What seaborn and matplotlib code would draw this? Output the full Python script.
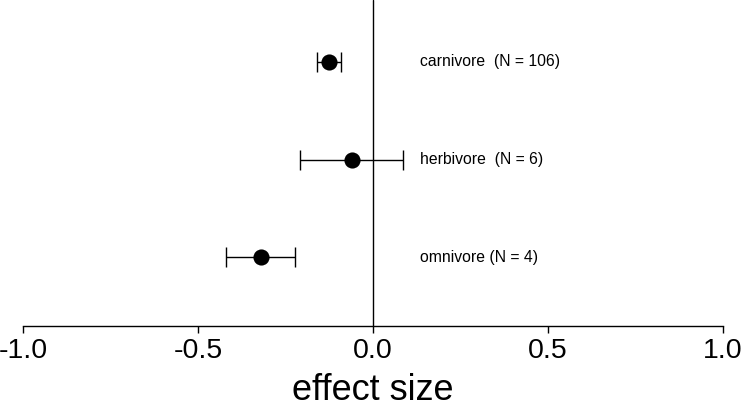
import matplotlib
matplotlib.use("Agg")
import matplotlib.pyplot as plt
import seaborn as sns
import pandas as pd

# values
diets = ["carnivore", "herbivore", "omnivore"]
labels = ["carnivore  (N = 106)", "herbivore  (N = 6)", "omnivore (N = 4)"]
effect = [-0.126, -0.061, -0.321]
ci_low = [-0.160, -0.208, -0.420]
ci_high = [-0.092, 0.086, -0.222]
ypos = [3, 2, 1]

df = pd.DataFrame({"diet": diets, "effect": effect, "lo": ci_low, "hi": ci_high, "y": ypos})

sns.set_style("white")
plt.rcParams["font.family"] = ["Liberation Sans", "DejaVu Sans"]
plt.rcParams["text.color"] = "black"

fig = plt.figure(figsize=(7.42, 4.07), dpi=100)
ax = fig.add_axes([23 / 742, 81 / 407, 700 / 742, 326 / 407])

ax.axvline(0, color="black", lw=1, zorder=1)

ax.errorbar(
    df["effect"], df["y"],
    xerr=[df["effect"] - df["lo"], df["hi"] - df["effect"]],
    fmt="none", ecolor="black", elinewidth=1, capsize=7, capthick=1, zorder=2,
)
sns.scatterplot(data=df, x="effect", y="y", color="black", s=135, edgecolor="black",
                linewidth=0, ax=ax, zorder=3, legend=False)

for lab, y in zip(labels, ypos):
    ax.text(0.135, y, lab, ha="left", va="center", fontsize=11.3, color="black")

ax.set_xlim(-1, 1)
ax.set_ylim(0.3, 3.63)
ax.set_xticks([-1.0, -0.5, 0.0, 0.5, 1.0])
ax.set_xticklabels(["-1.0", "-0.5", "0.0", "0.5", "1.0"])
ax.set_yticks([])
ax.tick_params(axis="x", direction="out", length=5, width=1, pad=4, labelsize=20.5,
               bottom=True, colors="black")
ax.set_xlabel("effect size", fontsize=26, labelpad=6, color="black")
ax.set_ylabel("")

for side in ["top", "left", "right"]:
    ax.spines[side].set_visible(False)
ax.spines["bottom"].set_color("black")
ax.spines["bottom"].set_linewidth(1)

fig.savefig("out.png", dpi=100)
